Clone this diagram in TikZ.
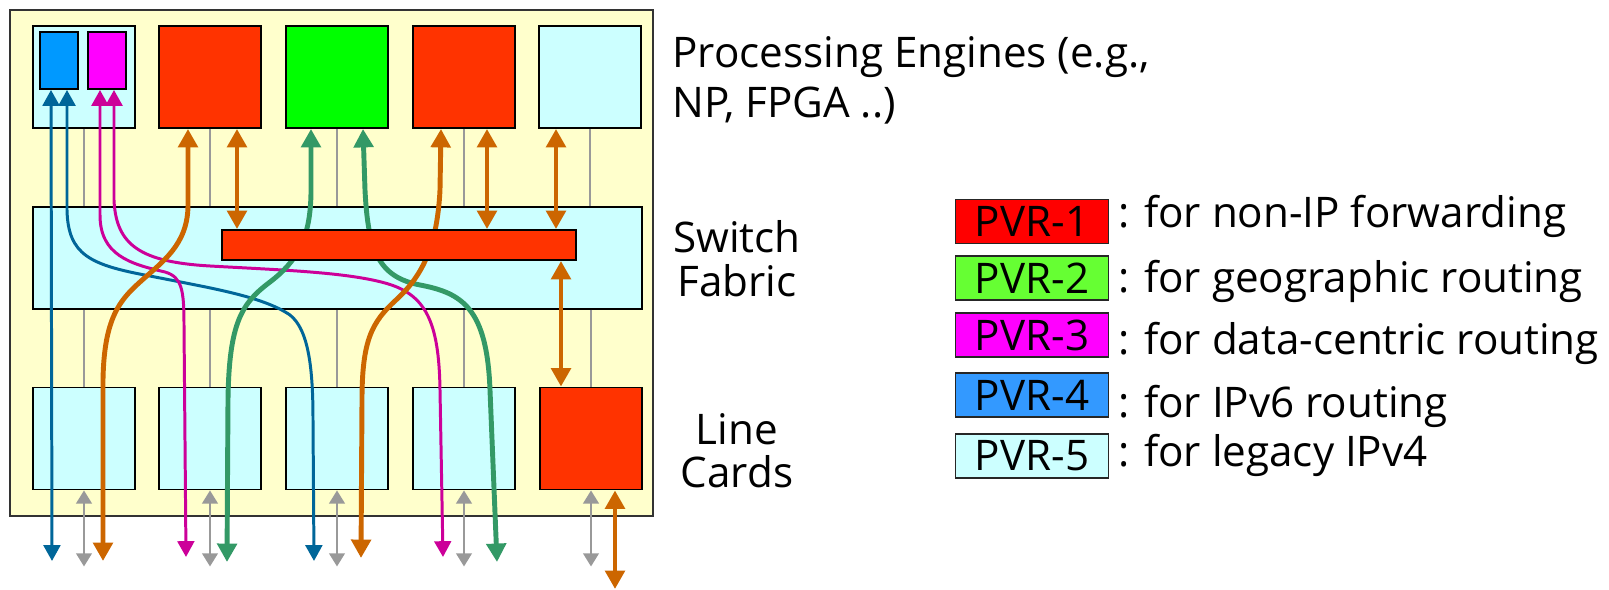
\documentclass[tikz,border=0pt]{standalone}
\usepackage{fontspec}
\setmainfont{Open Sans}
\usetikzlibrary{arrows.meta,positioning}
\definecolor{chassis}{HTML}{FFFFCC}
\definecolor{pvrred}{HTML}{FF3300}
\definecolor{pvrgreen}{HTML}{00FF00}
\definecolor{pvrpink}{HTML}{FF00FF}
\definecolor{pvrblue}{HTML}{0099FF}
\definecolor{pvrcyan}{HTML}{CCFFFF}
\definecolor{keyred}{HTML}{FF0000}
\definecolor{keygreen}{HTML}{66FF33}
\definecolor{keyblue}{HTML}{3399FF}
\definecolor{wireblue}{HTML}{006699}
\definecolor{wirepink}{HTML}{CC0099}
\definecolor{wireorange}{HTML}{CC6600}
\definecolor{wiregreen}{HTML}{339966}
\definecolor{wiregray}{HTML}{999999}

\begin{document}
\begin{tikzpicture}[x=0.02cm, y=-0.02cm, font=\fontsize{24}{29}\selectfont]
    \tikzset{unitbox/.style={rectangle, draw=black, line width=1.1pt, minimum width=2.04cm,
      minimum height=2.04cm, inner sep=0pt}}
    \tikzset{keybox/.style={rectangle, draw=black!85, line width=1pt, minimum width=3.06cm,
      minimum height=0.88cm, inner sep=0pt}}
    \tikzset{thinwire/.style={wiregray, line width=1pt}}
    \tikzset{grayio/.style={wiregray, line width=1pt,
      {Triangle[length=7.5pt,width=9pt]}-{Triangle[length=7.5pt,width=9pt]}}}
    \tikzset{orangewire/.style={wireorange, line width=2.8pt,
      {Triangle[length=10.5pt,width=11pt]}-{Triangle[length=10.5pt,width=11pt]}}}
    \tikzset{greenwire/.style={wiregreen, line width=2.8pt,
      {Triangle[length=10.5pt,width=11pt]}-{Triangle[length=10.5pt,width=11pt]}}}
    \tikzset{bluewire/.style={wireblue, line width=1.7pt,
      {Triangle[length=9pt,width=9.5pt]}-{Triangle[length=9pt,width=9.5pt]}}}
    \tikzset{pinkwire/.style={wirepink, line width=1.7pt,
      {Triangle[length=9pt,width=9.5pt]}-{Triangle[length=9pt,width=9.5pt]}}}

    \useasboundingbox (0,0) rectangle (1609,590);

    % router chassis
    \node[draw=black!80, line width=1.1pt, fill=chassis, minimum width=12.86cm,
          minimum height=10.12cm, inner sep=0pt] (rack) at (331.5,263) {};

    % processing engines
    \foreach \x/\c [count=\i] in {84/pvrcyan, 210/pvrred, 337/pvrgreen, 464/pvrred, 590/pvrcyan}
      \node[unitbox, fill=\c] (pe\i) at (\x,77) {};
    \node[unitbox, fill=pvrblue, minimum width=0.76cm, minimum height=1.14cm] (pe1a) at (59,60.5) {};
    \node[unitbox, fill=pvrpink, minimum width=0.76cm, minimum height=1.14cm] (pe1b) at (107,60.5) {};

    % switch fabric
    \node[unitbox, fill=pvrcyan, minimum width=12.18cm] (sf) at (337.5,258) {};

    % line cards
    \foreach \x/\c [count=\i] in {84/pvrcyan, 210/pvrcyan, 337/pvrcyan, 464/pvrcyan, 591/pvrred}
      \node[unitbox, fill=\c] (lc\i) at (\x,438.5) {};

    % default (gray) links
    \foreach \i in {1,...,5} {
      \draw[thinwire] (pe\i.south) -- (pe\i.south |- sf.north);
      \draw[thinwire] (lc\i.north |- sf.south) -- (lc\i.north);
      \draw[grayio] (lc\i.south) -- ++(0,76);
    }

    % external ports
    \coordinate (port1) at (52,561);
    \coordinate (port2) at (103,561);
    \coordinate (port3) at (186,557);
    \coordinate (port4) at (227,562);
    \coordinate (port5) at (314,561);
    \coordinate (port6) at (361,558);
    \coordinate (port7) at (443,557);
    \coordinate (port8) at (497,562);
    \coordinate (port9) at (615,589);

    % PVR-4 and PVR-3 paths
    \draw[bluewire] (pe1a.south -| 51,0) -- (port1);
    \draw[bluewire] (pe1a.south -| 67,0) -- (67,210) .. controls (68,255) and (90,265) .. (150,276)
      .. controls (210,288) and (262,296) .. (290,315) .. controls (309,330) and (313,370) .. (313,420) -- (port5);
    \draw[pinkwire] (pe1b.south -| 100,0) -- (100,215) .. controls (100,255) and (130,264) .. (165,272)
      .. controls (182,277) and (184,290) .. (184,325) -- (port3);
    \draw[pinkwire] (pe1b.south -| 114,0) -- (114,200) .. controls (116,245) and (140,262) .. (210,266)
      .. controls (280,270) and (345,272) .. (385,283) .. controls (425,294) and (439,320) .. (440,390) -- (port7);

    % PVR-1 and PVR-2 paths
    \draw[orangewire] (pe2.south -| 188,0) -- (188,205) .. controls (188,245) and (162,262) .. (140,282)
      .. controls (120,300) and (104,318) .. (103,380) -- (port2);
    \draw[greenwire] (pe3.south -| 311,0) -- (311,190) .. controls (311,240) and (296,262) .. (270,282)
      .. controls (242,303) and (229,322) .. (228,400) -- (port4);
    \draw[greenwire] (pe3.south -| 363,0) -- (365,190) .. controls (368,250) and (378,277) .. (420,285)
      .. controls (462,293) and (487,308) .. (490,390) -- (port8);
    \draw[orangewire] (pe4.south -| 441,0) -- (440,190) .. controls (437,250) and (420,278) .. (396,300)
      .. controls (372,322) and (362,340) .. (362,400) -- (port6);

    % PVR-1 slice of the fabric
    \node[unitbox, fill=pvrred, minimum width=7.08cm, minimum height=0.6cm] (bar) at (399,245) {};
    \draw[orangewire] (pe2.south -| 237,0) -- (bar.north -| 237,0);
    \draw[orangewire] (pe4.south -| 487,0) -- (bar.north -| 487,0);
    \draw[orangewire] (pe5.south -| 556,0) -- (bar.north -| 556,0);
    \draw[orangewire] (bar.south -| 561,0) -- (lc5.north -| 561,0);
    \draw[orangewire] (lc5.south -| 615,0) -- (port9);

    % labels
    \node[anchor=base west, inner sep=0pt] (pelabel) at (672,68) {Processing Engines (e.g.,};
    \node[anchor=base west, inner sep=0pt] (pelabel2) at (672,118) {NP, FPGA ..)};
    \node[anchor=base, inner sep=0pt] (sflabel) at (737,253) {Switch};
    \node[anchor=base, inner sep=0pt] (sflabel2) at (737,297) {Fabric};
    \node[anchor=base, inner sep=0pt] (lclabel) at (737,445) {Line};
    \node[anchor=base, inner sep=0pt] (lclabel2) at (737,488) {Cards};

    % legend
    \foreach \y/\c/\t [count=\i] in {221.5/keyred/PVR-1, 278/keygreen/PVR-2, 335/pvrpink/PVR-3,
                                     395/keyblue/PVR-4, 456/pvrcyan/PVR-5}
      \node[keybox, fill=\c] (key\i) at (1032,\y) {\t};
    \node[anchor=base west, inner sep=0pt] (note1) at (1118,228) {: for non-IP forwarding};
    \node[anchor=base west, inner sep=0pt] (note2) at (1118,293) {: for geographic routing};
    \node[anchor=base west, inner sep=0pt] (note3) at (1118,355) {: for data-centric routing};
    \node[anchor=base west, inner sep=0pt] (note4) at (1118,418) {: for IPv6 routing};
    \node[anchor=base west, inner sep=0pt] (note5) at (1118,467) {: for legacy IPv4};
  \end{tikzpicture}
\end{document}
